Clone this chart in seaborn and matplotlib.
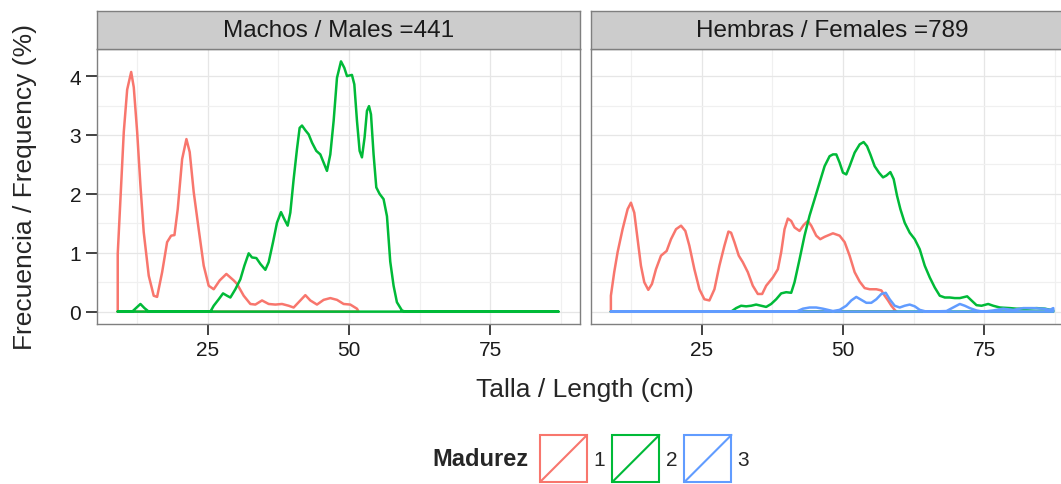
import matplotlib
matplotlib.use("Agg")
import matplotlib.pyplot as plt
import pandas as pd
import seaborn as sns
from matplotlib.legend_handler import HandlerBase
from matplotlib.patches import Rectangle
from matplotlib.lines import Line2D
from matplotlib.ticker import MultipleLocator

# ---------------- data ----------------
panels = ["Machos / Males =441", "Hembras / Females =789"]
madurez_levels = ["1", "2", "3"]
colors = ["#F8766D", "#00BA38", "#619CFF"]

# Males, maturity 1
m1_x = [9.07, 9.55, 10.14, 10.74, 11.45, 11.91, 12.51, 13.09, 13.67, 14.56, 15.44, 16.04, 16.93,
        17.81, 18.52, 19.11, 19.69, 20.47, 21.23, 21.81, 22.52, 23.40, 24.29, 25.17, 26.06, 27.12,
        28.30, 29.60, 30.19, 31.37, 32.55, 33.43, 34.61, 35.79, 36.97, 38.15,
        39.33, 40.21, 41.10, 42.28, 43.16, 44.34, 45.52, 46.70, 47.88, 49.06, 50.24, 51.42, 51.71]
m1_y = [0.98, 1.91, 3.05, 3.77, 4.07, 3.81, 3.05, 2.14, 1.35, 0.61, 0.27, 0.25, 0.67,
        1.18, 1.29, 1.30, 1.74, 2.59, 2.93, 2.71, 2.03, 1.40, 0.78, 0.44, 0.38, 0.53,
        0.64, 0.53, 0.47, 0.27, 0.13, 0.12, 0.19, 0.13, 0.12, 0.13,
        0.10, 0.07, 0.16, 0.28, 0.19, 0.12, 0.20, 0.23, 0.20, 0.13, 0.12, 0.05, 0.00]

# Males, maturity 2
m2_x = [9.07, 11.62, 12.30, 13.09, 13.80, 14.56, 25.47, 26.06, 26.95, 27.71, 28.42, 29.01, 29.89,
        30.78, 31.49, 32.25, 32.84, 33.61, 34.32, 35.20, 35.79, 36.56, 37.26, 37.97, 38.56, 39.15,
        39.62, 40.21, 40.80, 41.27, 41.69, 42.28, 42.87, 43.46, 44.22, 44.93, 45.52, 46.11, 46.70,
        47.29, 47.88, 48.59, 49.18, 49.65, 50.53, 50.95, 51.42, 51.89, 52.30, 52.77, 53.19, 53.55,
        53.90, 54.36, 54.84, 55.42, 56.13, 56.73, 57.31, 57.90, 58.49, 59.38, 59.96, 87.09]
m2_y = [0, 0, 0.06, 0.13, 0.06, 0, 0, 0.10, 0.21, 0.31, 0.27, 0.24, 0.38,
        0.55, 0.78, 0.99, 0.92, 0.91, 0.81, 0.71, 0.84, 1.18, 1.51, 1.69, 1.57, 1.46,
        1.68, 2.25, 2.76, 3.12, 3.16, 3.08, 3.01, 2.87, 2.73, 2.67, 2.53, 2.39, 2.67,
        3.24, 3.97, 4.25, 4.14, 4.00, 4.02, 3.86, 3.24, 2.73, 2.62, 2.96, 3.41, 3.49,
        3.35, 2.67, 2.11, 2.00, 1.91, 1.62, 0.85, 0.44, 0.16, 0.02, 0, 0]

# Females, maturity 1
f1_x = [8.92, 9.51, 10.11, 10.99, 11.88, 12.47, 13.06, 13.65, 14.24, 14.83, 15.54, 16.19, 16.90,
        17.79, 18.79, 19.56, 20.45, 21.34, 22.10, 22.81, 23.70, 24.59, 25.47, 26.36, 27.25, 28.13,
        29.02, 29.73, 30.20, 30.79, 31.56, 32.27, 33.16, 34.04, 34.93, 35.70, 36.41, 37.59, 38.48,
        39.07, 39.66, 40.25, 40.84, 41.43, 42.32, 43.03, 43.79, 44.39, 45.27, 45.98, 46.75, 48.23,
        49.41, 50.30, 51.18, 52.07, 52.96, 53.84, 54.73, 55.91, 56.80, 57.39, 57.98, 58.57, 59.16, 59.46]
f1_y = [0.27, 0.67, 1.01, 1.40, 1.74, 1.85, 1.68, 1.23, 0.78, 0.50, 0.37, 0.47, 0.72,
        0.95, 1.03, 1.23, 1.40, 1.46, 1.37, 1.12, 0.72, 0.38, 0.21, 0.19, 0.38, 0.78,
        1.12, 1.36, 1.34, 1.18, 0.95, 0.84, 0.67, 0.44, 0.30, 0.30, 0.44, 0.58, 0.72,
        1.01, 1.40, 1.58, 1.54, 1.43, 1.37, 1.47, 1.54, 1.46, 1.29, 1.23, 1.27, 1.33,
        1.29, 1.18, 0.95, 0.67, 0.51, 0.40, 0.38, 0.38, 0.36, 0.27, 0.19, 0.10, 0.03, 0]

# Females, maturity 2
f2_x = [8.92, 30.20, 31.09, 31.97, 32.86, 33.75, 34.63, 35.52, 36.41, 37.29, 38.18, 39.07, 39.95,
        40.84, 41.43, 42.32, 43.20, 44.09, 44.98, 45.86, 46.75, 47.64, 48.23, 48.82, 49.41, 50.00,
        50.59, 51.18, 52.07, 52.96, 53.66, 54.26, 54.85, 55.61, 56.38, 57.09, 57.68, 58.39, 58.98,
        59.57, 60.17, 60.93, 61.82, 62.71, 63.59, 64.48, 65.37, 66.25, 67.14, 68.03, 68.91, 69.80,
        70.69, 71.99, 72.75, 73.64, 74.53, 75.71, 76.60, 77.78, 79.55, 80.73, 82.51, 84.28, 85.76, 87.23]
f2_y = [0, 0, 0.06, 0.10, 0.09, 0.10, 0.12, 0.10, 0.08, 0.13, 0.21, 0.31, 0.33,
        0.32, 0.50, 0.89, 1.29, 1.63, 1.91, 2.19, 2.47, 2.64, 2.67, 2.67, 2.53, 2.36,
        2.33, 2.47, 2.70, 2.84, 2.88, 2.81, 2.67, 2.47, 2.36, 2.28, 2.31, 2.37, 2.25,
        1.97, 1.74, 1.51, 1.34, 1.23, 1.06, 0.78, 0.58, 0.41, 0.27, 0.24, 0.24, 0.23,
        0.23, 0.26, 0.19, 0.11, 0.10, 0.13, 0.10, 0.07, 0.06, 0.05, 0.05, 0.06, 0.05, 0.02]

# Females, maturity 3
f3_x = [8.92, 41.73, 42.91, 44.09, 45.27, 46.45, 48.23, 49.41, 50.59, 51.48,
        52.36, 53.25, 54.14, 55.02, 55.91, 56.80, 57.57, 58.27, 59.16, 60.05,
        60.93, 61.82, 62.71, 63.59, 64.78, 68.32, 69.50, 70.69, 71.57, 72.46,
        73.64, 74.82, 76.60, 78.37, 80.14, 81.91, 83.69, 85.46, 86.64, 87.23]
f3_y = [0, 0, 0.05, 0.07, 0.07, 0.05, 0.01, 0.03, 0.10, 0.19,
        0.25, 0.20, 0.15, 0.15, 0.21, 0.30, 0.32, 0.21, 0.10, 0.07,
        0.10, 0.12, 0.09, 0.03, 0, 0.01, 0.07, 0.13, 0.10, 0.06,
        0.02, 0, 0.02, 0.05, 0.03, 0.06, 0.06, 0.05, 0.03, 0.06]

x_ticks = [25, 50, 75]
y_ticks = [0, 1, 2, 3, 4]
x_label = "Talla / Length (cm)"
y_label = "Frecuencia / Frequency (%)"
legend_title = "Madurez"

series = [
    (panels[0], "1", m1_x, m1_y),
    (panels[0], "2", m2_x, m2_y),
    (panels[1], "1", f1_x, f1_y),
    (panels[1], "2", f2_x, f2_y),
    (panels[1], "3", f3_x, f3_y),
]

# density outlines are closed polygons (ggplot geom_density style)
frames = []
for panel, mad, xs, ys in series:
    xx = [xs[0]] + list(xs) + [xs[-1], xs[0]]
    yy = [0.0] + list(ys) + [0.0, 0.0]
    frames.append(pd.DataFrame({"panel": panel, "madurez": mad, "talla": xx, "freq": yy}))
df = pd.concat(frames, ignore_index=True)

# ---------------- styling ----------------
sns.set_theme(style="white")
plt.rcParams["font.family"] = ["Liberation Sans", "DejaVu Sans"]

W, H = 1061, 485
fig = plt.figure(figsize=(W / 100, H / 100), dpi=100)
palette = dict(zip(madurez_levels, colors))


def fx(px):
    return px / W


def fy(py):
    return (H - py) / H


panel_left = [97, 591]
panel_w = 483
panel_top, panel_bot = 50, 325
strip_top = 12

for i, panel in enumerate(panels):
    ax = fig.add_axes([fx(panel_left[i]), fy(panel_bot), panel_w / W, (panel_bot - panel_top) / H])
    sub = df[df["panel"] == panel]
    sns.lineplot(data=sub, x="talla", y="freq", hue="madurez", hue_order=madurez_levels,
                 palette=palette, sort=False, estimator=None, lw=1.8, legend=False, ax=ax)
    ax.set_xlim(5.4, 90.9)
    ax.set_ylim(-0.21, 4.46)
    ax.set_xticks(x_ticks)
    ax.set_yticks(y_ticks)
    ax.xaxis.set_minor_locator(MultipleLocator(12.5))
    ax.yaxis.set_minor_locator(MultipleLocator(0.5))
    ax.grid(which="major", color="#E6E6E6", lw=0.9)
    ax.grid(which="minor", color="#F0F0F0", lw=0.9)
    ax.set_axisbelow(True)
    ax.set_xlabel("")
    ax.set_ylabel("")
    for s in ax.spines.values():
        s.set_color("#7F7F7F")
        s.set_linewidth(1.0)
    ax.tick_params(which="major", length=8, width=1.3, color="#333333", labelsize=15,
                   labelcolor="#1A1A1A", pad=3.5, bottom=True, left=True)
    ax.tick_params(which="minor", length=0)
    if i == 1:
        ax.tick_params(axis="y", left=False, labelleft=False)

    sax = fig.add_axes([fx(panel_left[i]), fy(panel_top), panel_w / W, (panel_top - strip_top) / H])
    sax.set_facecolor("#CCCCCC")
    sax.set_xticks([])
    sax.set_yticks([])
    for s in sax.spines.values():
        s.set_color("#7F7F7F")
        s.set_linewidth(1.0)
    sax.text(0.5, 0.5, panel, ha="center", va="center", fontsize=17.5, color="#1A1A1A",
             transform=sax.transAxes)

fig.text(fx(25), fy(187.5), y_label, rotation=90, ha="center", va="center", fontsize=19)
fig.text(fx(585), fy(397), x_label, ha="center", va="baseline", fontsize=19)


class BoxDiag(HandlerBase):
    def create_artists(self, legend, orig_handle, xdescent, ydescent, width, height, fontsize, trans):
        c = orig_handle.get_color()
        side = width
        x0 = -xdescent
        yc = -ydescent + height / 2
        y0 = yc - side / 2
        r = Rectangle((x0, y0), side, side, fill=False, edgecolor=c, lw=1.5, transform=trans)
        ln = Line2D([x0, x0 + side], [y0, y0 + side], color=c, lw=1.5, transform=trans)
        return [r, ln]


handles = [Line2D([], [], color=c) for c in colors]
leg_y = fy(459.5)
fig.legend(handles, madurez_levels, loc="center left", bbox_to_anchor=(fx(540), leg_y),
           ncol=3, frameon=False, handler_map={Line2D: BoxDiag()}, handlelength=2.26,
           handleheight=2.26, handletextpad=0.3, columnspacing=0.35, borderpad=0,
           borderaxespad=0, fontsize=15)
fig.text(fx(529), leg_y, legend_title, ha="right", va="center", fontsize=17, fontweight="bold")

fig.savefig("out.png", dpi=100)
